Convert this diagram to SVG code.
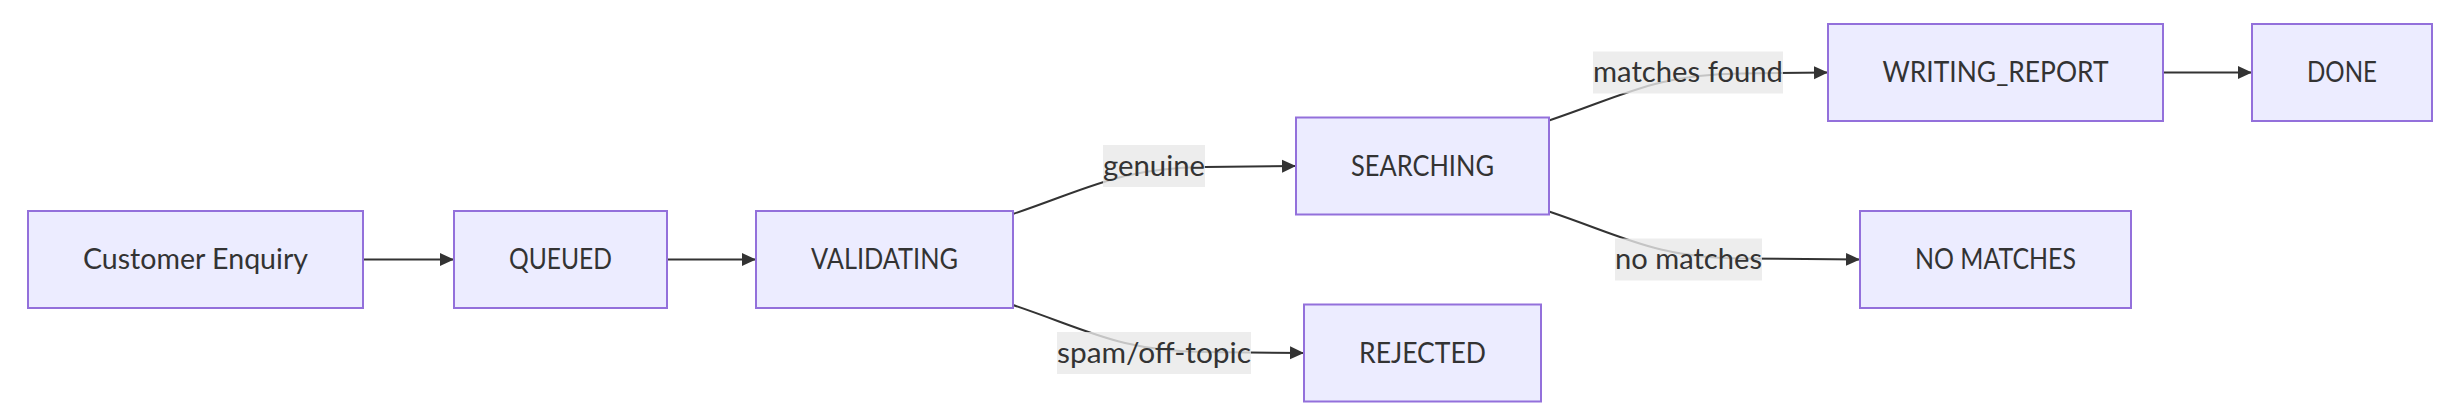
<svg xmlns="http://www.w3.org/2000/svg" width="2454" height="414" viewBox="0 0 2454 414">
<defs>
<marker id="arr" viewBox="0 0 14 14" refX="14" refY="7" markerWidth="14" markerHeight="14" markerUnits="userSpaceOnUse" orient="auto">
<path d="M0,0.5 L14,7 L0,13.5 Z" fill="#333333"/>
</marker>
<style>
.node rect{fill:#ECECFF;stroke:#9370DB;stroke-width:2}
.node text{font-family:Lato,"Liberation Sans",sans-serif;font-size:28px;fill:#333333;text-anchor:middle}
.edge{fill:none;stroke:#333333;stroke-width:2}
.lbl rect{fill:#e8e8e8;fill-opacity:0.8}
.lbl text{font-family:Lato,"Liberation Sans",sans-serif;font-size:28px;fill:#333333;text-anchor:middle}
</style>
</defs>
<rect width="2454" height="414" fill="#ffffff"/>
<g id="connectors">
<path class="edge" d="M363,259.5 L454,259.5" marker-end="url(#arr)"/>
<path class="edge" d="M667,259.5 L756,259.5" marker-end="url(#arr)"/>
<path class="edge" d="M1013,214 C1090,188 1120,168 1205,167 L1296,166" marker-end="url(#arr)"/>
<path class="edge" d="M1013,305 C1090,331 1120,351 1205,352 L1304,353" marker-end="url(#arr)"/>
<path class="edge" d="M1549,120.5 C1626,94.5 1656,74.5 1741,73.5 L1828,72.5" marker-end="url(#arr)"/>
<path class="edge" d="M1549,211.5 C1626,237.5 1656,257.5 1741,258.5 L1860,259.5" marker-end="url(#arr)"/>
<path class="edge" d="M2163,72.5 L2252,72.5" marker-end="url(#arr)"/>
<g class="lbl"><rect x="1103" y="145" width="102" height="42"/><text x="1154" y="175.5" textLength="102" lengthAdjust="spacingAndGlyphs">genuine</text></g>
<g class="lbl"><rect x="1057" y="332" width="194" height="42"/><text x="1154" y="362.5" textLength="194" lengthAdjust="spacingAndGlyphs">spam/off-topic</text></g>
<g class="lbl"><rect x="1593" y="51.5" width="190" height="42"/><text x="1688" y="82" textLength="190" lengthAdjust="spacingAndGlyphs">matches found</text></g>
<g class="lbl"><rect x="1615" y="238.5" width="147" height="42"/><text x="1688.5" y="269" textLength="147" lengthAdjust="spacingAndGlyphs">no matches</text></g>
</g>
<g id="customer" class="node"><rect x="28" y="211" width="335" height="97"/><text x="195.5" y="269" textLength="225" lengthAdjust="spacingAndGlyphs">Customer Enquiry</text></g>
<g id="queued" class="node"><rect x="454" y="211" width="213" height="97"/><text x="560.5" y="269" textLength="103" lengthAdjust="spacingAndGlyphs">QUEUED</text></g>
<g id="validating" class="node"><rect x="756" y="211" width="257" height="97"/><text x="884.5" y="269" textLength="147" lengthAdjust="spacingAndGlyphs">VALIDATING</text></g>
<g id="searching" class="node"><rect x="1296" y="117.5" width="253" height="97"/><text x="1422.5" y="175.5" textLength="143" lengthAdjust="spacingAndGlyphs">SEARCHING</text></g>
<g id="rejected" class="node"><rect x="1304" y="304.5" width="237" height="97"/><text x="1422.5" y="362.5" textLength="127" lengthAdjust="spacingAndGlyphs">REJECTED</text></g>
<g id="writing_report" class="node"><rect x="1828" y="24" width="335" height="97"/><text x="1995.5" y="82" textLength="226" lengthAdjust="spacingAndGlyphs">WRITING_REPORT</text></g>
<g id="done" class="node"><rect x="2252" y="24" width="180" height="97"/><text x="2342" y="82" textLength="70" lengthAdjust="spacingAndGlyphs">DONE</text></g>
<g id="no_matches" class="node"><rect x="1860" y="211" width="271" height="97"/><text x="1995.5" y="269" textLength="161" lengthAdjust="spacingAndGlyphs">NO MATCHES</text></g>
</svg>
